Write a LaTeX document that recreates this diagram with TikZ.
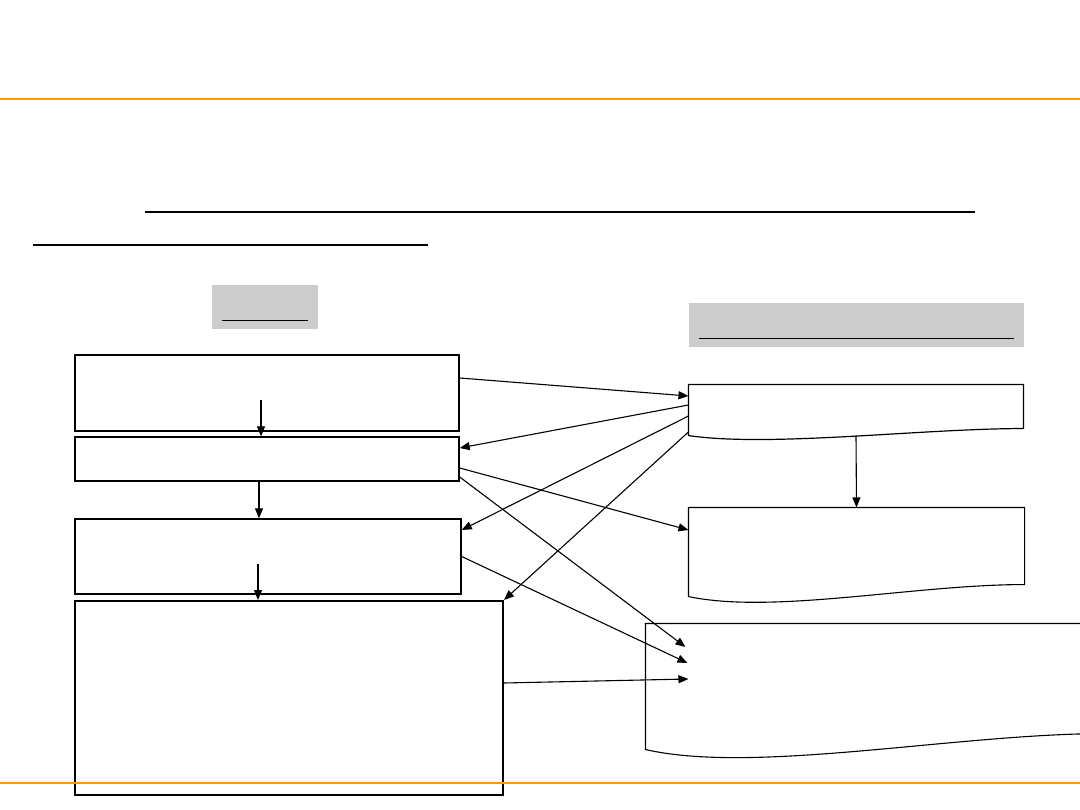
\documentclass[tikz,border=0pt]{standalone}
\usepackage{xcolor}
\usepackage{tikz}
\usetikzlibrary{arrows.meta,calc}
\definecolor{rulorange}{RGB}{255,153,0}
\definecolor{headgray}{RGB}{204,204,204}

\begin{document}
\begin{tikzpicture}[x=1pt,y=-1pt,>={Triangle[length=10pt,width=8pt]},line width=1.1pt,
  stepbox/.style={draw,line width=1.4pt,inner sep=0pt},
  docbox/.style={inner sep=0pt},
  headbox/.style={fill=headgray,inner sep=0pt,minimum height=44pt}]
  \useasboundingbox (0,0) rectangle (1080,810);
  % title underlines
  \draw[line width=2.5pt] (145,212) -- (975,212);
  \draw[line width=1.5pt] (33,245) -- (428,245);
  % column heads
  \node[headbox,minimum width=106pt] (lefthead) at (265,307) {};
  \draw ([shift={(11pt,9pt)}]lefthead.south west) -- ([shift={(-11pt,9pt)}]lefthead.south east);
  \node[headbox,minimum width=335pt] (righthead) at (856.5,325) {};
  \draw ([shift={(11pt,9pt)}]righthead.south west) -- ([shift={(-11pt,9pt)}]righthead.south east);
  % left column
  \node[stepbox,minimum width=384pt,minimum height=76pt] (plan) at (267,393) {};
  \node[stepbox,minimum width=384pt,minimum height=44pt] (design) at (267,459) {};
  \node[stepbox,minimum width=386pt,minimum height=75pt] (build) at (268,556.5) {};
  \node[stepbox,line width=2pt,minimum width=428pt,minimum height=194pt] (run) at (289,698) {};
  \draw[->] ($(plan.south)+(-6,-32)$) coordinate (p1) -- (p1 |- design.north);
  \draw[->] ($(design.south)+(-8,0)$) coordinate (d1) -- (d1 |- build.north);
  \draw[->] ($(build.south)+(-10,-31)$) coordinate (b1) -- (b1 |- run.north);
  % right column
  \node[docbox,minimum width=334pt,minimum height=50pt] (spec) at (856,410) {};
  \draw[line width=1.2pt] (spec.south west) -- (spec.north west) -- (spec.north east) -- ([yshift=7pt]spec.south east)
    .. controls +(-103,0) and +(81,12) .. (spec.south west) -- cycle;
  \node[docbox,minimum width=335pt,minimum height=88pt] (check) at (856.5,552) {};
  \draw (check.south west) -- (check.north west) -- (check.north east) -- ([yshift=12pt]check.south east)
    .. controls +(-110,0) and +(85,18) .. (check.south west) -- cycle;
  \node[docbox,minimum width=460pt,minimum height=125pt] (report) at (876,686.5) {};
  \draw (report.south west) -- (report.north west) -- (report.north east) -- ([yshift=16pt]report.south east)
    .. controls +(-150,0) and +(110,25) .. (report.south west) -- cycle;
  \draw[->] (spec.south) -- (check.north);
  \coordinate (in1) at ([shift={(40pt,39.5pt)}]report.west);
  \coordinate (in2) at ([shift={(42pt,23.5pt)}]report.west);
  \coordinate (in3) at ([shift={(43pt,7.5pt)}]report.west);
  % links
  \draw[->] ([yshift=15pt]plan.east) -- ([yshift=14pt]spec.west);
  \draw[->] ([yshift=5pt]spec.west) -- ([yshift=11pt]design.east);
  \draw[->] ([yshift=-6pt]spec.west) -- ([yshift=26.5pt]build.east);
  \draw[->] ([yshift=-22pt]spec.west) -- (run.north east);
  \draw[->] ([yshift=-9pt]design.east) -- ([yshift=22pt]check.west);
  \draw[->] ([yshift=-18pt]design.east) -- (in1);
  \draw[->] (build.east) -- (in2);
  \draw[->] ([yshift=15pt]run.east) -- (in3);
  % rules
  \draw[rulorange,line width=2pt] (0,99) -- (1080,99);
  \draw[rulorange,line width=2pt] (0,783) -- (1080,783);
\end{tikzpicture}
\end{document}
